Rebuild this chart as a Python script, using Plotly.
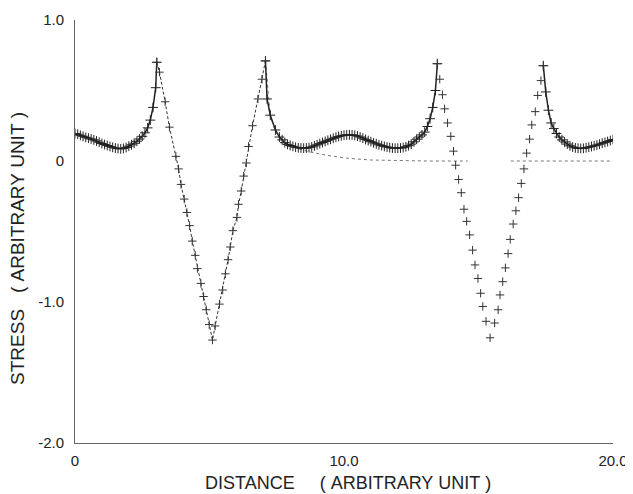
import plotly.graph_objects as go

# ---- data (x: distance, y: stress) ----
# smooth part 1 (dense crosses)
seg1_x = [0.0, 0.1, 0.2, 0.3, 0.4, 0.5, 0.6, 0.7, 0.8, 0.9, 1.0, 1.1, 1.2, 1.3, 1.4,
          1.5, 1.6, 1.7, 1.8, 1.9, 2.0, 2.1, 2.2, 2.3, 2.4, 2.5, 2.6, 2.7, 2.8, 2.9,
          3.0, 3.04]
seg1_y = [0.195, 0.19, 0.182, 0.175, 0.168, 0.162, 0.156, 0.15, 0.142, 0.133, 0.124,
          0.117, 0.110, 0.103, 0.097, 0.092, 0.088, 0.086, 0.089, 0.096, 0.105, 0.115,
          0.126, 0.140, 0.156, 0.175, 0.20, 0.235, 0.29, 0.38, 0.52, 0.70]

# first V (dashed line with crosses)
v1_x = [3.04, 3.14, 3.35, 3.51, 3.75, 3.85, 3.94, 4.06, 4.16, 4.26, 4.36, 4.47, 4.55,
        4.68, 4.78, 4.88, 4.99, 5.11, 5.21, 5.37, 5.49, 5.59, 5.69, 5.77, 5.87, 6.02,
        6.08, 6.18, 6.27, 6.37, 6.45, 6.6, 6.8, 6.95, 7.08]
v1_y = [0.70, 0.63, 0.42, 0.24, 0.033, -0.056, -0.166, -0.27, -0.365, -0.458, -0.568,
        -0.669, -0.763, -0.868, -0.961, -1.055, -1.16, -1.27, -1.17, -1.015, -0.915,
        -0.80, -0.70, -0.61, -0.494, -0.40, -0.307, -0.213, -0.107, -0.014, 0.103,
        0.25, 0.44, 0.58, 0.71]

# smooth part 2 (dense crosses)
seg2_x = [7.08, 7.14, 7.26, 7.45, 7.6, 7.7, 7.8, 7.9, 8.0, 8.1, 8.2, 8.3, 8.4, 8.5,
          8.6, 8.7, 8.8, 8.9, 9.0, 9.1, 9.2, 9.3, 9.4, 9.5, 9.6, 9.7, 9.8, 9.9, 10.0,
          10.1, 10.2, 10.3, 10.4, 10.5, 10.6, 10.7, 10.8, 10.9, 11.0, 11.1, 11.2, 11.3,
          11.4, 11.5, 11.6, 11.7, 11.8, 11.9, 12.0, 12.1, 12.2, 12.3, 12.4, 12.5, 12.6,
          12.7, 12.8, 12.9, 13.0, 13.1, 13.2, 13.3, 13.4, 13.47]
seg2_y = [0.71, 0.44, 0.325, 0.22, 0.17, 0.15, 0.13, 0.118, 0.11, 0.104, 0.098, 0.094,
          0.092, 0.091, 0.092, 0.095, 0.10, 0.107, 0.115, 0.123, 0.131, 0.139, 0.147,
          0.154, 0.161, 0.168, 0.174, 0.179, 0.183, 0.185, 0.186, 0.185, 0.182, 0.177,
          0.170, 0.162, 0.153, 0.145, 0.137, 0.129, 0.122, 0.115, 0.109, 0.104, 0.099,
          0.095, 0.092, 0.091, 0.091, 0.092, 0.095, 0.101, 0.109, 0.12, 0.136, 0.155,
          0.17, 0.185, 0.205, 0.245, 0.30, 0.38, 0.50, 0.69]

# second V (sparse crosses only)
v2_x = [13.47, 13.56, 13.66, 13.74, 13.85, 13.97, 14.07, 14.15, 14.26, 14.36, 14.46,
        14.56, 14.67, 14.78, 14.87, 14.98, 15.08, 15.16, 15.28, 15.43, 15.6, 15.73,
        15.8, 15.9, 16.0, 16.1, 16.18, 16.29, 16.39, 16.49, 16.59, 16.69, 16.79, 16.9,
        16.98, 17.11, 17.2, 17.32, 17.41]
v2_y = [0.69, 0.58, 0.47, 0.37, 0.27, 0.175, 0.07, -0.03, -0.131, -0.225, -0.342,
        -0.428, -0.524, -0.632, -0.737, -0.833, -0.938, -1.032, -1.137, -1.254, -1.149,
        -1.055, -0.95, -0.856, -0.758, -0.657, -0.556, -0.447, -0.353, -0.26, -0.159,
        -0.056, 0.056, 0.155, 0.256, 0.35, 0.465, 0.57, 0.676]

# smooth part 3 (dense crosses)
seg3_x = [17.41, 17.5, 17.6, 17.7, 17.8, 17.9, 18.0, 18.1, 18.2, 18.3, 18.4, 18.5,
          18.6, 18.7, 18.8, 18.9, 19.0, 19.1, 19.2, 19.3, 19.4, 19.5, 19.6, 19.7, 19.8,
          19.9, 20.0]
seg3_y = [0.676, 0.49, 0.36, 0.27, 0.23, 0.195, 0.17, 0.15, 0.135, 0.12, 0.108, 0.099,
          0.093, 0.09, 0.089, 0.09, 0.094, 0.098, 0.103, 0.108, 0.113, 0.119, 0.126,
          0.132, 0.138, 0.145, 0.152]

# decaying reference curve (dotted)
decay_x = [7.08, 7.26, 7.45, 7.7, 8.0, 8.4, 8.75, 9.37, 10.1, 11.0, 12.2, 13.1, 14.6,
           None, 16.2, 17.0, 18.0, 19.0, 20.0]
decay_y = [0.71, 0.32, 0.21, 0.14, 0.105, 0.08, 0.063, 0.04, 0.02, 0.007, 0.0, 0.0, 0.0,
           None, 0.0, 0.0, 0.0, 0.0, 0.0]

x_ticks = [0, 10, 20]
x_ticktext = ["0", "10.0", "20.0"]
y_ticks = [-2, -1, 0, 1]
y_ticktext = ["-2.0", "-1.0", "0", "1.0"]

FONT = "Liberation Sans, Arial, sans-serif"
INK = "#222222"
NB = "\u00a0"

fig = go.Figure()

fig.add_trace(go.Scatter(
    x=decay_x, y=decay_y, mode="lines", connectgaps=False,
    line=dict(color="#777777", width=1, dash="dot"), hoverinfo="skip"))

for sx, sy in [(seg1_x, seg1_y), (seg2_x, seg2_y), (seg3_x, seg3_y)]:
    fig.add_trace(go.Scatter(
        x=sx, y=sy, mode="lines+markers",
        line=dict(color=INK, width=1.5),
        marker=dict(symbol="cross-thin", size=7, line=dict(color=INK, width=1))))

fig.add_trace(go.Scatter(
    x=v1_x, y=v1_y, mode="lines+markers",
    line=dict(color="#333333", width=1, dash="3px,2px"),
    marker=dict(symbol="cross-thin", size=6, line=dict(color="#333333", width=1))))

fig.add_trace(go.Scatter(
    x=v2_x, y=v2_y, mode="markers",
    marker=dict(symbol="cross-thin", size=6, line=dict(color="#333333", width=1))))

# the page adds an 8px body margin, so the figure is 8px smaller than the window
fig.update_layout(
    width=625, height=486,
    margin=dict(l=67, r=20, t=12, b=51, autoexpand=False),
    paper_bgcolor="white", plot_bgcolor="white",
    showlegend=False,
    font=dict(family=FONT, size=15, color=INK),
    xaxis=dict(range=[0, 20], tickvals=x_ticks, ticktext=x_ticktext,
               showgrid=False, zeroline=False, showline=True, automargin=False,
               linecolor="#666666", linewidth=1, ticks="", ticklabelstandoff=4,
               tickfont=dict(size=15, color=INK)),
    yaxis=dict(range=[-2.0, 1.0], tickvals=y_ticks, ticktext=y_ticktext,
               showgrid=False, zeroline=False, showline=True, automargin=False,
               linecolor="#666666", linewidth=1, ticks="", ticklabelstandoff=7,
               tickfont=dict(size=15, color=INK)),
    annotations=[
        dict(text="DISTANCE" + NB * 5 + "(" + NB + "ARBITRARY" + NB + "UNIT" + NB + ")",
             xref="paper", yref="paper", x=0.507, y=-0.094,
             xanchor="center", yanchor="middle", showarrow=False,
             font=dict(size=18, color=INK, family=FONT)),
        dict(text="STRESS" + NB * 3 + "(" + NB + "ARBITRARY" + NB + "UNIT" + NB + ")",
             xref="paper", yref="paper", x=-0.106, y=0.461,
             xanchor="center", yanchor="middle", showarrow=False, textangle=-90,
             font=dict(size=19, color=INK, family=FONT)),
    ],
)

fig.write_html("out.html")
